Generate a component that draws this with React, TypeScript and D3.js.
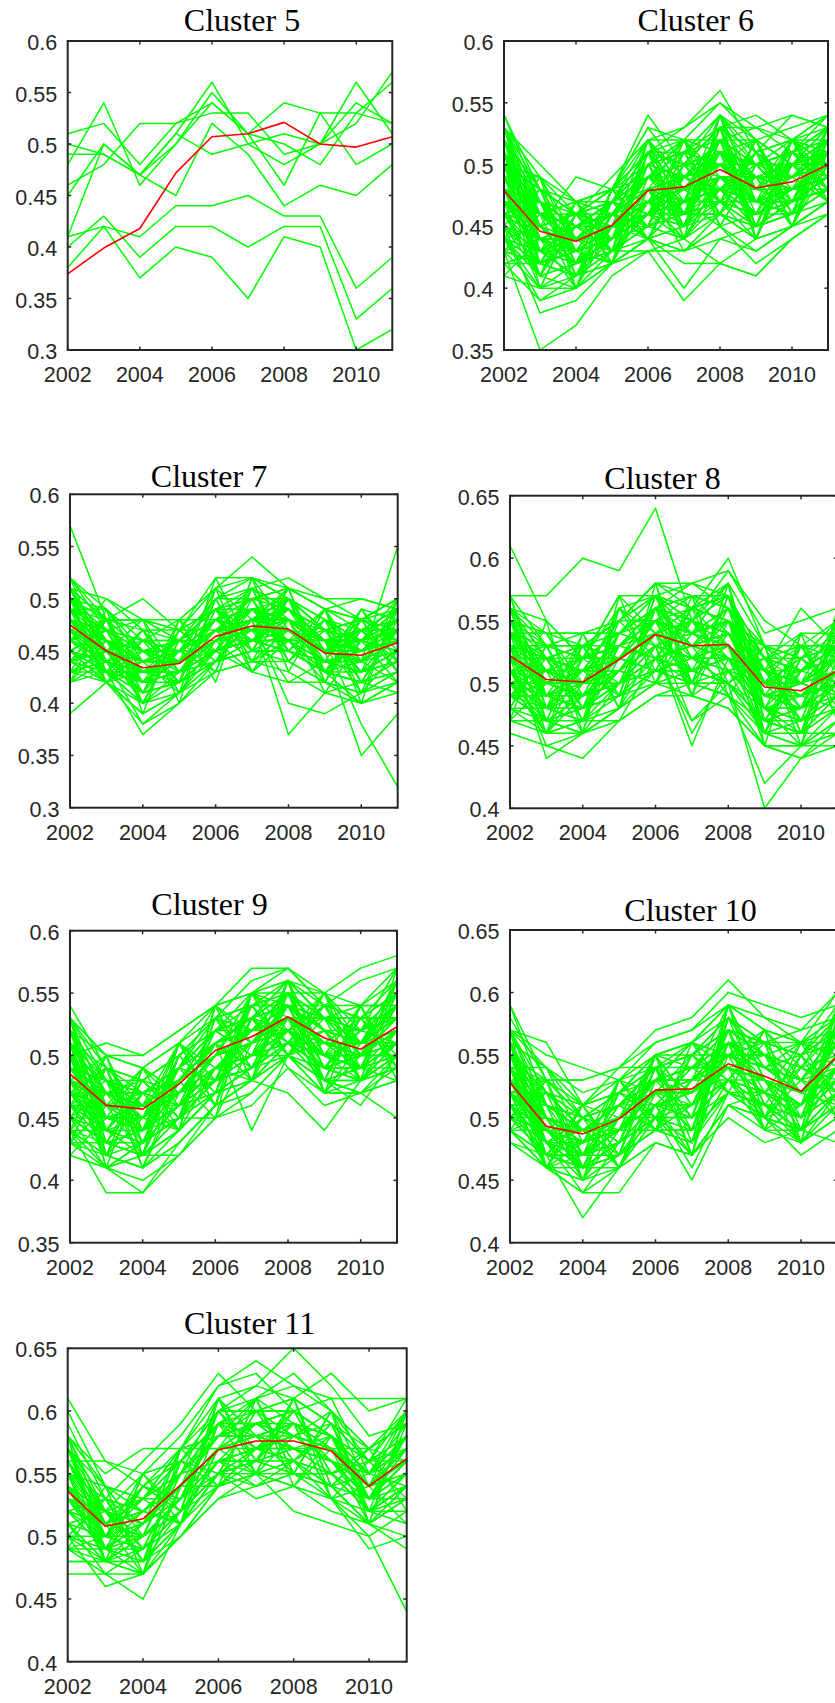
import React from "react";
import * as d3 from "d3";

// Years on the horizontal axis
const YEARS = [2002, 2003, 2004, 2005, 2006, 2007, 2008, 2009, 2010, 2011];
const X_TICKS = [2002, 2004, 2006, 2008, 2010];

// Member trajectories, values in hundredths (0.48 -> 48)
const cluster5Members = [
  [51, 52, 48, 52, 54, 51, 54, 53, 53, 52],
  [50, 49, 47, 51, 56, 50, 48, 50, 56, 51],
  [49, 49, 47, 45, 52, 49, 44, 46, 45, 48],
  [48, 54, 46, 50, 55, 51, 46, 53, 48, 50],
  [46, 48, 52, 52, 53, 53, 49, 50, 52, 57],
  [45, 50, 47, 51, 49, 50, 51, 50, 54, 52],
  [41, 50, 47, 50, 54, 51, 50, 48, 53, 56],
  [38, 42, 37, 40, 39, 35, 41, 40, 30, 32],
  [40, 43, 39, 42, 42, 40, 42, 42, 33, 36],
  [41, 42, 41, 44, 44, 45, 43, 43, 36, 39],
];
const cluster5Centroid = [0.374, 0.399, 0.418, 0.472, 0.507, 0.510, 0.521, 0.500, 0.497, 0.507];

const cluster6Members = [
  [54, 47, 44, 46, 50, 49, 52, 50, 51, 53], [53, 46, 45, 47, 49, 50, 51, 49, 50, 52],
  [52, 48, 46, 47, 51, 50, 53, 51, 52, 51], [51, 44, 43, 45, 49, 51, 54, 52, 50, 53],
  [50, 47, 45, 46, 48, 49, 52, 50, 51, 52], [50, 45, 43, 44, 47, 48, 50, 49, 49, 51],
  [49, 46, 44, 45, 48, 47, 49, 48, 50, 50], [49, 44, 42, 44, 46, 48, 51, 47, 48, 49],
  [48, 45, 44, 46, 48, 49, 50, 48, 49, 51], [48, 43, 43, 44, 47, 46, 48, 47, 47, 49],
  [47, 46, 45, 45, 49, 48, 49, 49, 48, 50], [47, 44, 42, 43, 46, 47, 48, 46, 47, 48],
  [46, 43, 44, 45, 47, 48, 50, 47, 49, 50], [46, 42, 41, 43, 45, 46, 47, 46, 46, 48],
  [45, 44, 43, 44, 46, 47, 49, 48, 48, 49], [45, 41, 42, 43, 44, 45, 47, 45, 46, 47],
  [44, 42, 43, 44, 46, 44, 48, 47, 47, 49], [44, 40, 40, 42, 44, 43, 46, 44, 45, 47],
  [43, 42, 41, 43, 45, 44, 47, 46, 47, 48], [42, 39, 40, 42, 44, 45, 46, 44, 45, 47],
  [41, 40, 41, 42, 44, 43, 45, 43, 45, 46], [53, 50, 47, 48, 52, 52, 55, 52, 53, 54],
  [52, 45, 49, 48, 54, 50, 53, 54, 52, 54], [51, 47, 46, 49, 52, 53, 56, 51, 54, 53],
  [50, 49, 47, 47, 51, 51, 53, 53, 52, 52], [49, 45, 46, 48, 50, 52, 52, 50, 51, 53],
  [48, 47, 45, 47, 49, 50, 51, 50, 50, 51], [47, 43, 42, 44, 48, 45, 49, 47, 48, 50],
  [46, 44, 43, 45, 46, 49, 50, 49, 49, 51], [45, 42, 44, 46, 48, 47, 51, 48, 50, 50],
  [44, 43, 45, 45, 47, 48, 49, 47, 48, 50], [48, 46, 44, 46, 47, 49, 50, 47, 49, 52],
  [49, 44, 42, 45, 49, 47, 48, 49, 48, 50], [50, 46, 45, 46, 48, 46, 47, 45, 47, 49],
  [47, 45, 43, 44, 45, 47, 49, 48, 47, 49], [46, 41, 40, 43, 45, 44, 46, 45, 46, 48],
  [52, 44, 43, 45, 48, 49, 51, 49, 50, 51], [51, 46, 44, 46, 49, 48, 52, 48, 49, 52],
  [45, 38, 39, 42, 44, 40, 44, 43, 45, 47], [43, 35, 37, 41, 43, 39, 42, 41, 44, 46],
  [47, 44, 44, 47, 48, 43, 44, 45, 47, 48], [42, 42, 43, 45, 44, 42, 42, 44, 45, 47],
  [44, 39, 41, 42, 43, 43, 45, 42, 44, 46], [48, 45, 42, 43, 46, 50, 53, 50, 51, 53],
  [50, 48, 46, 47, 50, 51, 54, 51, 52, 54], [53, 49, 46, 48, 53, 52, 51, 52, 50, 52],
  [46, 45, 44, 46, 47, 46, 49, 47, 47, 49], [49, 47, 45, 47, 50, 49, 51, 50, 50, 51],
  [47, 43, 42, 45, 47, 48, 50, 47, 48, 50], [45, 43, 41, 44, 46, 45, 48, 46, 47, 48],
  [50, 44, 44, 46, 49, 50, 50, 48, 49, 51], [48, 42, 43, 44, 46, 47, 49, 46, 48, 49],
  [51, 45, 43, 45, 48, 49, 52, 49, 50, 52], [46, 44, 45, 46, 48, 48, 48, 48, 49, 50],
  [44, 41, 42, 44, 47, 46, 50, 47, 48, 49], [49, 46, 47, 48, 51, 52, 49, 49, 48, 51],
  [52, 47, 45, 46, 50, 51, 50, 50, 52, 50], [47, 46, 43, 44, 47, 47, 47, 47, 46, 48],
  [43, 40, 42, 44, 46, 45, 48, 45, 47, 48], [54, 48, 47, 48, 51, 53, 55, 53, 54, 53],
  [41, 44, 45, 43, 43, 44, 42, 41, 44, 46], [53, 48, 46, 48, 53, 49, 52, 53, 51, 54],
  [52, 42, 46, 43, 51, 45, 53, 45, 52, 47], [44, 48, 41, 47, 45, 51, 46, 52, 46, 53],
  [50, 41, 47, 42, 52, 44, 54, 44, 51, 48], [46, 47, 42, 46, 44, 50, 47, 51, 45, 52],
  [53, 43, 45, 44, 50, 46, 52, 46, 50, 49], [43, 46, 43, 47, 46, 49, 48, 50, 47, 51],
  [51, 40, 46, 45, 49, 52, 45, 50, 47, 53], [45, 49, 40, 48, 44, 47, 53, 44, 52, 47],
  [49, 42, 47, 43, 52, 46, 51, 45, 51, 48], [47, 47, 41, 46, 45, 52, 47, 52, 46, 52],
  [52, 44, 42, 48, 47, 44, 54, 47, 49, 52], [44, 45, 46, 42, 51, 48, 46, 51, 48, 49],
  [50, 46, 40, 45, 46, 50, 49, 46, 52, 50], [48, 41, 45, 47, 50, 45, 52, 49, 45, 53],
  [46, 48, 44, 43, 52, 49, 47, 44, 50, 48], [51, 43, 47, 46, 45, 51, 50, 52, 47, 51],
  [43, 44, 42, 48, 49, 46, 53, 47, 52, 49], [53, 47, 43, 42, 48, 52, 48, 45, 46, 53],
  [47, 40, 46, 46, 44, 47, 54, 50, 49, 47], [49, 49, 44, 44, 51, 44, 49, 48, 51, 52],
  [45, 42, 41, 47, 46, 50, 46, 52, 45, 50], [52, 46, 46, 45, 52, 48, 52, 44, 50, 47],
  [44, 43, 45, 43, 47, 51, 47, 49, 48, 53], [50, 48, 42, 48, 45, 46, 53, 51, 52, 48],
  [46, 41, 47, 44, 50, 52, 45, 46, 47, 51], [48, 44, 40, 46, 48, 45, 51, 50, 51, 49],
  [51, 47, 45, 47, 44, 49, 50, 47, 46, 52], [43, 42, 43, 42, 49, 47, 48, 51, 49, 50],
  [53, 45, 46, 48, 51, 50, 54, 48, 52, 51], [47, 43, 41, 45, 46, 46, 46, 45, 47, 49],
  [49, 46, 47, 43, 50, 51, 52, 52, 50, 53], [45, 44, 44, 46, 47, 44, 49, 46, 48, 48],
  [50, 42, 43, 47, 49, 49, 47, 49, 45, 51], [52, 48, 46, 44, 46, 52, 51, 44, 51, 50],
  [46, 45, 42, 48, 51, 47, 45, 50, 47, 52], [48, 47, 41, 45, 45, 50, 53, 47, 50, 47],
  [44, 41, 46, 47, 52, 48, 48, 51, 46, 50], [51, 44, 44, 42, 47, 45, 52, 45, 52, 53],
  [42, 43, 45, 46, 44, 49, 50, 48, 49, 51], [50, 49, 43, 47, 50, 46, 46, 49, 48, 49],
];
const cluster6Centroid = [0.479, 0.446, 0.438, 0.451, 0.479, 0.482, 0.496, 0.481, 0.486, 0.500];

const cluster7Members = [
  [57, 48, 45, 44, 47, 48, 49, 46, 45, 46], [52, 47, 44, 45, 48, 50, 50, 47, 46, 47],
  [52, 49, 46, 46, 50, 52, 50, 48, 47, 48], [51, 48, 48, 47, 49, 50, 51, 49, 48, 50],
  [51, 46, 43, 44, 47, 49, 48, 45, 44, 47], [50, 47, 45, 45, 48, 47, 49, 47, 46, 49],
  [50, 45, 42, 43, 46, 48, 47, 44, 44, 46], [49, 48, 48, 46, 49, 51, 49, 47, 45, 48],
  [49, 46, 44, 44, 47, 47, 48, 46, 45, 47], [49, 44, 41, 42, 45, 46, 46, 43, 43, 45],
  [48, 47, 45, 45, 48, 49, 48, 46, 47, 48], [48, 45, 43, 43, 46, 47, 47, 45, 44, 46],
  [48, 43, 40, 42, 45, 46, 45, 43, 42, 44], [47, 46, 44, 45, 47, 48, 47, 46, 46, 47],
  [47, 44, 42, 43, 45, 46, 46, 44, 43, 45], [47, 42, 39, 41, 44, 45, 44, 42, 41, 43],
  [46, 45, 44, 44, 46, 47, 48, 45, 45, 46], [46, 43, 41, 42, 44, 45, 45, 43, 42, 44],
  [46, 50, 47, 46, 49, 50, 49, 46, 46, 48], [45, 44, 43, 43, 45, 46, 46, 44, 44, 45],
  [45, 42, 40, 41, 43, 44, 44, 42, 40, 42], [44, 45, 44, 44, 46, 47, 48, 46, 47, 47],
  [44, 43, 42, 42, 44, 45, 45, 43, 42, 43], [43, 44, 43, 43, 45, 46, 47, 45, 45, 46],
  [43, 42, 38, 40, 43, 44, 43, 41, 40, 41], [42, 43, 42, 43, 44, 45, 45, 44, 43, 44],
  [39, 42, 43, 44, 46, 47, 46, 44, 43, 44], [50, 48, 50, 47, 52, 52, 50, 48, 46, 47],
  [51, 48, 48, 48, 51, 54, 51, 49, 47, 49], [49, 47, 46, 46, 50, 51, 52, 50, 48, 50],
  [48, 46, 45, 46, 49, 50, 51, 49, 50, 49], [47, 45, 44, 45, 47, 48, 50, 47, 48, 49],
  [46, 44, 43, 44, 46, 49, 48, 45, 44, 46], [45, 43, 37, 40, 44, 45, 47, 44, 43, 45],
  [44, 42, 39, 41, 44, 46, 45, 43, 40, 42], [48, 44, 38, 41, 45, 47, 42, 42, 41, 43],
  [47, 45, 42, 43, 46, 43, 42, 44, 43, 44], [46, 44, 43, 44, 47, 48, 37, 41, 42, 43],
  [45, 43, 42, 43, 46, 48, 40, 39, 41, 42], [47, 46, 44, 44, 47, 47, 47, 45, 35, 39],
  [48, 47, 45, 44, 47, 48, 48, 46, 38, 32], [49, 45, 43, 44, 47, 48, 49, 46, 44, 55],
  [46, 44, 43, 43, 45, 46, 47, 45, 46, 50], [44, 43, 41, 42, 44, 46, 45, 44, 45, 48],
  [50, 46, 43, 45, 48, 49, 49, 47, 48, 46], [42, 44, 42, 44, 45, 43, 46, 43, 44, 42],
  [45, 47, 46, 45, 48, 47, 46, 46, 46, 45], [48, 45, 44, 45, 47, 46, 48, 45, 45, 47],
  [43, 43, 40, 43, 46, 47, 46, 43, 42, 41], [47, 48, 47, 47, 49, 49, 48, 47, 46, 48],
  [51, 50, 48, 47, 51, 52, 51, 50, 50, 49], [44, 48, 48, 46, 48, 49, 50, 47, 48, 50],
  [51, 43, 47, 41, 50, 44, 50, 42, 48, 43], [43, 48, 40, 46, 43, 51, 44, 48, 41, 49],
  [49, 42, 46, 42, 49, 45, 51, 43, 47, 44], [45, 47, 41, 47, 44, 50, 45, 49, 42, 48],
  [52, 44, 45, 43, 48, 47, 49, 44, 49, 45], [44, 46, 42, 45, 45, 49, 46, 47, 43, 47],
  [50, 45, 48, 40, 51, 43, 48, 41, 46, 42], [42, 49, 39, 48, 42, 52, 43, 49, 40, 50],
  [48, 43, 44, 44, 47, 46, 50, 45, 48, 46], [46, 48, 43, 42, 50, 44, 47, 46, 44, 49],
  [51, 46, 40, 47, 44, 48, 51, 42, 47, 43], [43, 44, 47, 43, 47, 50, 44, 48, 45, 48],
  [49, 47, 42, 45, 43, 52, 47, 44, 49, 44], [45, 42, 45, 46, 49, 46, 49, 47, 42, 47],
  [50, 49, 44, 41, 46, 49, 45, 48, 46, 45], [44, 45, 41, 48, 48, 45, 50, 43, 48, 47],
  [47, 43, 46, 44, 51, 48, 46, 46, 43, 50], [52, 48, 43, 46, 45, 51, 48, 45, 47, 44],
  [42, 46, 45, 42, 49, 47, 51, 49, 44, 46], [48, 44, 42, 47, 47, 44, 46, 42, 49, 48],
  [46, 47, 48, 43, 44, 48, 49, 46, 41, 45], [50, 42, 44, 45, 50, 50, 44, 47, 46, 49],
  [43, 45, 40, 46, 46, 46, 48, 43, 48, 43], [49, 49, 45, 44, 48, 51, 45, 48, 44, 47],
  [45, 43, 43, 42, 52, 45, 50, 45, 47, 46], [51, 45, 46, 48, 45, 49, 47, 44, 45, 48],
  [44, 48, 42, 44, 47, 47, 50, 47, 43, 44], [47, 46, 44, 46, 49, 43, 46, 49, 48, 47],
  [48, 43, 47, 43, 46, 48, 48, 43, 46, 45], [46, 47, 41, 45, 48, 46, 49, 46, 47, 49],
];
const cluster7Centroid = [0.475, 0.450, 0.434, 0.438, 0.464, 0.474, 0.471, 0.448, 0.446, 0.458];

const cluster8Members = [
  [57, 57, 60, 59, 64, 55, 57, 52, 51, 53], [61, 55, 52, 53, 56, 54, 55, 50, 50, 52],
  [57, 53, 54, 55, 58, 56, 57, 51, 50, 53], [56, 54, 54, 54, 56, 58, 57, 52, 52, 53],
  [56, 52, 51, 52, 55, 54, 56, 50, 49, 52], [55, 53, 53, 55, 57, 55, 58, 53, 51, 53],
  [55, 51, 50, 53, 55, 54, 55, 49, 49, 51], [54, 54, 54, 54, 56, 57, 56, 50, 50, 52],
  [54, 52, 51, 52, 54, 53, 53, 49, 50, 51], [54, 50, 49, 51, 53, 52, 54, 48, 48, 50],
  [53, 53, 53, 53, 55, 54, 55, 51, 51, 52], [53, 51, 50, 51, 54, 53, 52, 49, 48, 51],
  [53, 49, 48, 50, 52, 51, 53, 47, 47, 50], [52, 52, 52, 52, 54, 55, 54, 50, 49, 52],
  [52, 50, 50, 51, 53, 52, 52, 48, 49, 50], [52, 48, 47, 49, 52, 50, 51, 46, 47, 49],
  [51, 51, 51, 51, 53, 52, 53, 49, 48, 51], [51, 49, 48, 50, 52, 51, 50, 47, 46, 49],
  [51, 47, 46, 48, 51, 50, 49, 45, 45, 48], [50, 50, 50, 50, 52, 53, 52, 48, 47, 50],
  [50, 48, 48, 49, 51, 50, 50, 46, 46, 48], [50, 46, 46, 48, 50, 49, 48, 45, 45, 47],
  [49, 49, 49, 50, 51, 52, 52, 48, 48, 49], [49, 47, 47, 48, 50, 50, 49, 46, 45, 46],
  [48, 48, 48, 49, 51, 51, 50, 47, 46, 48], [48, 46, 47, 47, 49, 49, 48, 45, 44, 45],
  [47, 47, 48, 49, 50, 51, 50, 48, 47, 49], [46, 45, 46, 47, 49, 50, 49, 47, 46, 46],
  [56, 55, 52, 57, 57, 56, 55, 52, 51, 54], [55, 52, 51, 55, 58, 57, 56, 53, 52, 55],
  [54, 53, 52, 56, 57, 58, 56, 52, 54, 54], [53, 51, 50, 53, 56, 55, 59, 55, 53, 55],
  [52, 50, 49, 52, 55, 56, 60, 53, 52, 54], [51, 48, 48, 51, 55, 57, 57, 51, 56, 53],
  [50, 47, 46, 50, 54, 55, 54, 50, 54, 52], [53, 44, 46, 48, 53, 46, 51, 48, 47, 50],
  [52, 45, 44, 47, 52, 47, 50, 47, 46, 49], [51, 46, 47, 50, 53, 45, 52, 49, 48, 50],
  [50, 48, 50, 52, 54, 47, 49, 42, 45, 47], [49, 47, 48, 51, 53, 52, 50, 40, 44, 46],
  [52, 50, 51, 53, 55, 54, 53, 45, 44, 47], [51, 49, 50, 52, 56, 53, 52, 46, 45, 45],
  [53, 52, 53, 54, 57, 55, 54, 50, 51, 53], [50, 49, 51, 52, 55, 54, 53, 51, 53, 53],
  [49, 48, 49, 51, 54, 56, 55, 53, 53, 53], [55, 50, 51, 53, 55, 53, 54, 49, 50, 51],
  [54, 51, 49, 50, 52, 53, 55, 50, 49, 52], [52, 49, 48, 50, 53, 52, 51, 48, 47, 48],
  [51, 50, 52, 54, 56, 55, 52, 49, 48, 51], [53, 52, 50, 52, 54, 55, 53, 50, 50, 52],
  [56, 53, 52, 53, 55, 54, 56, 51, 50, 53], [50, 51, 52, 53, 55, 54, 53, 50, 49, 51],
  [49, 50, 51, 52, 54, 53, 54, 51, 50, 52], [54, 52, 53, 55, 57, 56, 55, 52, 51, 54],
  [47, 46, 49, 50, 51, 51, 52, 48, 47, 50], [55, 54, 53, 55, 58, 58, 59, 54, 55, 56],
  [56, 47, 53, 49, 57, 50, 57, 46, 53, 48], [48, 53, 47, 56, 51, 56, 50, 53, 46, 55],
  [55, 48, 52, 50, 56, 51, 56, 47, 52, 49], [49, 52, 48, 55, 52, 55, 51, 52, 47, 54],
  [57, 49, 51, 51, 55, 52, 55, 48, 51, 50], [50, 51, 49, 54, 53, 54, 52, 51, 48, 53],
  [54, 46, 54, 48, 58, 49, 58, 45, 54, 47], [47, 55, 46, 57, 50, 57, 49, 53, 45, 56],
  [53, 50, 50, 53, 54, 53, 54, 49, 50, 52], [51, 48, 51, 49, 57, 52, 50, 52, 48, 51],
  [56, 52, 47, 52, 51, 56, 53, 46, 52, 50], [48, 47, 53, 55, 55, 50, 57, 50, 47, 54],
  [54, 54, 49, 50, 53, 55, 51, 48, 53, 49], [50, 46, 52, 54, 56, 49, 55, 53, 46, 53],
  [52, 53, 48, 51, 50, 54, 58, 47, 51, 52], [55, 49, 50, 56, 54, 51, 52, 51, 50, 55],
  [49, 51, 53, 48, 56, 57, 54, 49, 49, 48], [57, 48, 47, 53, 52, 53, 56, 52, 53, 51],
  [51, 52, 51, 55, 58, 50, 50, 47, 48, 54], [53, 47, 49, 50, 54, 56, 57, 50, 52, 50],
  [47, 50, 52, 52, 51, 52, 53, 48, 45, 52], [55, 54, 50, 54, 55, 49, 51, 52, 50, 49],
  [50, 48, 54, 49, 57, 54, 55, 46, 51, 53], [52, 51, 46, 56, 53, 51, 52, 51, 47, 50],
  [54, 49, 51, 51, 50, 55, 57, 49, 53, 52], [48, 53, 48, 53, 56, 53, 49, 47, 48, 55],
  [56, 50, 52, 57, 54, 50, 54, 53, 50, 49], [51, 46, 50, 50, 52, 56, 58, 48, 46, 51],
  [53, 52, 47, 54, 57, 52, 51, 50, 52, 53], [49, 49, 53, 52, 55, 54, 55, 51, 49, 50],
];
const cluster8Centroid = [0.522, 0.503, 0.501, 0.519, 0.539, 0.530, 0.531, 0.497, 0.494, 0.510];

const cluster9Members = [
  [54, 49, 48, 50, 53, 54, 56, 53, 52, 55], [53, 50, 49, 51, 54, 55, 57, 54, 53, 56],
  [52, 48, 47, 49, 52, 53, 55, 52, 51, 54], [52, 50, 50, 52, 54, 55, 56, 55, 54, 57],
  [51, 47, 46, 48, 51, 52, 54, 51, 50, 53], [51, 49, 48, 50, 53, 54, 55, 53, 52, 54],
  [50, 46, 45, 47, 50, 51, 53, 50, 49, 52], [50, 48, 47, 49, 52, 53, 54, 52, 51, 53],
  [49, 45, 44, 46, 49, 50, 52, 49, 48, 51], [49, 47, 47, 48, 51, 52, 53, 51, 50, 52],
  [48, 44, 43, 45, 48, 49, 51, 48, 47, 50], [48, 46, 46, 47, 50, 51, 52, 50, 49, 51],
  [47, 43, 42, 44, 47, 48, 50, 47, 48, 49], [47, 45, 45, 47, 49, 50, 51, 49, 48, 50],
  [46, 42, 41, 43, 46, 48, 50, 48, 47, 49], [46, 44, 44, 46, 48, 49, 50, 48, 48, 50],
  [45, 41, 40, 42, 45, 47, 50, 47, 47, 48], [45, 43, 43, 45, 47, 48, 50, 49, 49, 50],
  [44, 42, 41, 43, 46, 48, 51, 48, 48, 49], [44, 39, 39, 42, 45, 46, 49, 47, 47, 48],
  [43, 41, 39, 43, 46, 47, 50, 48, 49, 50], [42, 41, 42, 44, 47, 49, 51, 49, 49, 51],
  [43, 43, 44, 46, 48, 50, 52, 50, 50, 51], [50, 51, 50, 52, 54, 57, 57, 55, 57, 58],
  [53, 50, 49, 51, 53, 56, 57, 54, 56, 57], [49, 48, 48, 50, 52, 55, 56, 54, 54, 56],
  [48, 47, 46, 48, 51, 53, 56, 53, 53, 55], [47, 46, 45, 47, 50, 52, 55, 52, 52, 54],
  [46, 45, 44, 46, 49, 51, 54, 51, 51, 53], [45, 44, 43, 45, 48, 50, 53, 50, 50, 52],
  [44, 43, 42, 44, 47, 49, 52, 49, 50, 51], [52, 47, 45, 47, 51, 44, 50, 48, 46, 50],
  [50, 45, 44, 46, 49, 48, 47, 44, 48, 50], [48, 46, 45, 48, 51, 53, 49, 46, 47, 45],
  [46, 43, 42, 45, 48, 55, 53, 53, 54, 48], [49, 47, 46, 49, 51, 52, 52, 51, 50, 52],
  [47, 44, 43, 46, 49, 50, 51, 50, 49, 51], [51, 48, 46, 48, 51, 53, 55, 53, 52, 54],
  [45, 44, 42, 42, 46, 48, 51, 49, 48, 50], [44, 42, 43, 45, 47, 49, 52, 50, 49, 51],
  [48, 45, 44, 46, 50, 51, 53, 51, 50, 53], [50, 47, 46, 47, 50, 52, 54, 52, 51, 53],
  [47, 46, 47, 49, 52, 53, 54, 52, 51, 52], [46, 45, 46, 48, 50, 51, 53, 50, 49, 51],
  [49, 46, 45, 47, 50, 51, 52, 50, 50, 52], [51, 46, 44, 45, 49, 50, 51, 49, 48, 51],
  [53, 49, 47, 48, 52, 52, 54, 52, 51, 52], [45, 43, 44, 46, 49, 51, 53, 51, 50, 52],
  [44, 41, 43, 45, 48, 50, 52, 50, 51, 53], [42, 41, 42, 45, 48, 50, 51, 49, 50, 52],
  [52, 48, 46, 48, 52, 53, 54, 52, 51, 55], [50, 46, 46, 48, 51, 52, 55, 52, 51, 54],
  [49, 45, 45, 47, 50, 52, 53, 51, 50, 53], [48, 45, 44, 47, 50, 51, 54, 51, 51, 53],
  [47, 44, 45, 47, 49, 50, 52, 50, 49, 51], [46, 44, 43, 46, 48, 49, 51, 49, 48, 50],
  [51, 47, 47, 49, 51, 52, 54, 53, 52, 54], [43, 42, 41, 44, 47, 49, 52, 50, 49, 51],
  [49, 48, 47, 49, 52, 54, 55, 53, 53, 55], [45, 45, 45, 47, 50, 52, 53, 51, 50, 52],
  [53, 42, 49, 44, 54, 48, 56, 47, 54, 49], [44, 50, 42, 51, 46, 55, 50, 55, 48, 56],
  [52, 43, 48, 45, 53, 49, 55, 48, 53, 50], [45, 49, 43, 50, 47, 54, 51, 54, 49, 55],
  [51, 44, 47, 46, 52, 50, 54, 49, 52, 51], [46, 48, 44, 49, 48, 53, 52, 53, 50, 54],
  [50, 41, 49, 47, 51, 48, 56, 50, 54, 48], [43, 49, 41, 48, 45, 55, 50, 52, 48, 57],
  [49, 45, 46, 44, 54, 51, 53, 47, 51, 52], [47, 47, 45, 51, 49, 52, 55, 55, 50, 50],
  [53, 46, 42, 48, 50, 54, 51, 51, 53, 53], [44, 44, 48, 45, 53, 49, 54, 48, 49, 49],
  [51, 48, 44, 50, 47, 53, 50, 54, 51, 56], [48, 42, 47, 46, 52, 50, 56, 50, 48, 51],
  [46, 50, 43, 49, 46, 55, 52, 48, 54, 54], [52, 45, 49, 47, 51, 48, 53, 53, 50, 50],
  [45, 47, 45, 44, 54, 52, 55, 49, 52, 55], [50, 43, 42, 51, 48, 49, 51, 52, 49, 48],
  [47, 49, 46, 48, 50, 54, 54, 51, 53, 53], [53, 44, 48, 45, 45, 51, 52, 55, 51, 51],
  [43, 46, 44, 50, 52, 53, 56, 47, 50, 56], [49, 48, 41, 47, 49, 50, 50, 53, 48, 52],
  [51, 42, 45, 49, 53, 52, 53, 48, 54, 49], [46, 46, 49, 46, 47, 55, 55, 52, 49, 54],
  [48, 50, 44, 48, 51, 49, 51, 50, 52, 57], [52, 45, 46, 51, 46, 53, 54, 54, 50, 50],
  [44, 47, 43, 45, 53, 51, 52, 49, 53, 53], [50, 44, 48, 47, 48, 54, 50, 51, 49, 55],
  [47, 49, 42, 50, 52, 50, 56, 53, 51, 51], [45, 43, 47, 44, 49, 52, 53, 50, 54, 54],
  [53, 48, 45, 49, 54, 48, 55, 52, 48, 50], [42, 45, 46, 46, 47, 53, 51, 55, 52, 53],
  [51, 41, 43, 48, 50, 55, 54, 49, 50, 56], [48, 47, 48, 45, 51, 49, 52, 54, 53, 49],
  [46, 46, 44, 51, 48, 51, 55, 50, 49, 55],
];
const cluster9Centroid = [0.485, 0.460, 0.457, 0.477, 0.504, 0.515, 0.531, 0.514, 0.505, 0.523];

const cluster10Members = [
  [59, 53, 50, 51, 54, 55, 58, 56, 55, 59], [59, 51, 49, 50, 53, 54, 57, 55, 54, 58],
  [57, 56, 51, 52, 55, 56, 59, 57, 56, 60], [57, 52, 50, 51, 53, 53, 56, 55, 53, 57],
  [56, 50, 48, 50, 52, 53, 55, 54, 52, 56], [56, 54, 52, 53, 55, 56, 58, 56, 55, 58],
  [55, 51, 49, 50, 52, 52, 55, 54, 52, 55], [55, 49, 47, 49, 51, 51, 54, 53, 51, 54],
  [55, 53, 53, 54, 54, 55, 57, 56, 56, 57], [54, 50, 48, 49, 51, 52, 54, 53, 51, 55],
  [54, 48, 46, 48, 50, 50, 53, 52, 50, 53], [53, 53, 53, 54, 56, 57, 59, 57, 56, 58],
  [53, 49, 48, 49, 51, 51, 53, 52, 50, 54], [53, 47, 46, 47, 49, 49, 52, 51, 49, 52],
  [52, 52, 51, 52, 54, 55, 57, 55, 54, 57], [52, 49, 47, 48, 50, 50, 52, 51, 50, 53],
  [52, 46, 44, 46, 48, 47, 51, 50, 48, 51], [51, 51, 50, 51, 53, 54, 56, 54, 53, 56],
  [51, 48, 47, 48, 50, 49, 52, 51, 49, 52], [51, 46, 45, 47, 49, 48, 53, 49, 49, 51],
  [50, 50, 49, 50, 52, 53, 55, 53, 52, 55], [50, 47, 46, 47, 49, 48, 52, 50, 49, 52],
  [49, 49, 48, 49, 51, 52, 54, 52, 51, 54], [49, 46, 45, 46, 48, 47, 51, 49, 48, 50],
  [48, 47, 47, 48, 50, 51, 53, 51, 51, 53], [57, 55, 54, 53, 56, 57, 60, 59, 58, 59],
  [56, 54, 51, 54, 57, 58, 61, 58, 57, 60], [55, 52, 50, 52, 55, 56, 59, 58, 56, 58],
  [54, 50, 49, 51, 53, 54, 57, 56, 57, 58], [53, 49, 47, 50, 52, 53, 56, 54, 55, 57],
  [55, 48, 44, 48, 51, 50, 53, 50, 49, 51], [54, 47, 42, 46, 50, 49, 52, 51, 48, 50],
  [52, 46, 44, 44, 48, 47, 51, 50, 47, 49], [53, 49, 46, 46, 50, 45, 51, 52, 50, 52],
  [52, 48, 47, 47, 51, 46, 52, 51, 50, 53], [50, 47, 46, 48, 51, 47, 50, 48, 49, 48],
  [51, 48, 47, 49, 52, 53, 55, 55, 52, 56], [53, 50, 49, 51, 53, 53, 54, 53, 52, 55],
  [56, 51, 49, 51, 54, 55, 57, 55, 53, 57], [54, 51, 50, 51, 53, 54, 56, 54, 53, 56],
  [52, 50, 49, 50, 52, 52, 54, 53, 52, 55], [50, 49, 49, 50, 52, 52, 54, 53, 51, 54],
  [55, 50, 48, 50, 53, 54, 55, 53, 52, 55], [51, 49, 48, 50, 53, 53, 55, 54, 52, 55],
  [53, 50, 48, 49, 52, 52, 54, 53, 52, 54], [54, 49, 47, 49, 52, 51, 53, 52, 51, 54],
  [52, 48, 48, 50, 53, 52, 55, 54, 53, 56], [57, 50, 48, 50, 52, 53, 56, 54, 52, 56],
  [49, 47, 47, 49, 51, 50, 53, 52, 50, 53], [55, 52, 51, 52, 54, 54, 56, 54, 53, 57],
  [58, 53, 50, 52, 54, 55, 58, 56, 55, 58], [51, 49, 47, 49, 51, 52, 55, 53, 51, 54],
  [50, 48, 46, 47, 50, 51, 53, 51, 50, 52], [53, 51, 49, 51, 53, 53, 56, 53, 52, 56],
  [48, 46, 46, 47, 49, 49, 52, 50, 49, 51],
  [57, 46, 51, 47, 55, 48, 59, 50, 56, 51], [49, 53, 45, 53, 49, 56, 52, 57, 48, 59],
  [56, 47, 50, 48, 54, 49, 58, 51, 55, 52], [50, 52, 46, 52, 50, 55, 53, 56, 49, 58],
  [55, 48, 49, 49, 53, 50, 57, 52, 54, 53], [51, 51, 47, 51, 51, 54, 54, 55, 50, 57],
  [57, 50, 45, 50, 55, 47, 56, 49, 55, 56], [49, 47, 51, 46, 52, 53, 59, 53, 48, 52],
  [54, 54, 48, 53, 49, 51, 53, 57, 53, 50], [52, 46, 50, 48, 54, 56, 55, 50, 51, 55],
  [56, 49, 46, 52, 50, 48, 58, 54, 56, 54], [50, 53, 51, 47, 55, 55, 52, 51, 49, 59],
  [53, 47, 47, 51, 52, 49, 57, 56, 52, 51], [55, 52, 49, 46, 51, 54, 54, 49, 55, 57],
  [51, 48, 45, 53, 54, 50, 59, 53, 50, 53], [57, 51, 50, 49, 49, 53, 55, 57, 54, 55],
  [49, 46, 48, 52, 53, 56, 52, 52, 48, 58], [54, 53, 46, 48, 55, 51, 56, 50, 53, 52],
  [52, 49, 51, 50, 50, 47, 58, 55, 56, 56], [56, 46, 47, 53, 52, 55, 53, 53, 49, 54],
  [50, 52, 49, 47, 54, 52, 57, 49, 51, 59], [53, 48, 50, 51, 49, 48, 55, 56, 55, 50],
  [55, 51, 45, 49, 55, 54, 52, 51, 50, 57], [51, 47, 48, 52, 51, 50, 58, 54, 52, 53],
  [57, 54, 50, 46, 53, 56, 54, 52, 56, 55], [49, 50, 46, 50, 52, 49, 56, 56, 48, 58],
  [54, 46, 51, 53, 50, 53, 53, 50, 54, 52], [52, 53, 47, 48, 54, 47, 59, 53, 51, 56],
  [56, 48, 49, 51, 49, 55, 55, 55, 53, 54], [50, 50, 48, 49, 55, 51, 57, 51, 50, 57],
];
const cluster10Centroid = [0.528, 0.493, 0.487, 0.499, 0.522, 0.523, 0.543, 0.533, 0.521, 0.549];

const cluster11Members = [
  [61, 56, 54, 56, 60, 62, 61, 59, 56, 61], [60, 54, 53, 57, 62, 63, 60, 61, 55, 60],
  [59, 53, 52, 55, 59, 61, 63, 60, 57, 59], [58, 52, 51, 54, 58, 59, 60, 58, 55, 58],
  [57, 51, 50, 53, 57, 58, 59, 57, 54, 57], [56, 56, 55, 56, 59, 60, 58, 59, 56, 58],
  [56, 50, 49, 52, 56, 57, 58, 56, 53, 56], [55, 53, 52, 55, 58, 59, 58, 57, 54, 57],
  [55, 49, 48, 51, 55, 56, 57, 55, 52, 55], [54, 52, 51, 54, 57, 58, 59, 58, 55, 57],
  [54, 48, 47, 50, 54, 55, 56, 54, 51, 54], [53, 51, 52, 55, 58, 58, 57, 56, 53, 56],
  [53, 50, 49, 52, 56, 57, 57, 56, 53, 55], [52, 51, 53, 56, 59, 59, 58, 57, 54, 56],
  [52, 49, 48, 51, 55, 56, 56, 55, 52, 54], [51, 50, 51, 53, 56, 57, 57, 56, 54, 55],
  [51, 48, 47, 51, 55, 55, 55, 54, 51, 53], [50, 49, 50, 53, 56, 56, 55, 55, 52, 54],
  [50, 48, 48, 50, 54, 55, 54, 53, 50, 52], [49, 50, 51, 54, 57, 58, 58, 57, 54, 55],
  [49, 48, 48, 52, 55, 54, 55, 53, 49, 50], [48, 48, 49, 52, 54, 55, 56, 55, 52, 53],
  [47, 47, 47, 50, 53, 54, 55, 54, 51, 49], [58, 55, 57, 57, 61, 62, 65, 62, 58, 59],
  [57, 53, 56, 59, 63, 60, 61, 63, 60, 61], [56, 52, 55, 58, 62, 64, 62, 61, 61, 61],
  [55, 51, 54, 57, 60, 61, 62, 60, 57, 60], [54, 50, 53, 56, 60, 60, 61, 59, 57, 59],
  [53, 50, 52, 55, 59, 59, 60, 58, 56, 58], [52, 49, 51, 54, 58, 58, 59, 57, 55, 57],
  [51, 47, 45, 51, 55, 53, 54, 52, 51, 50], [50, 46, 47, 50, 53, 55, 52, 51, 50, 44],
  [53, 49, 50, 52, 56, 54, 56, 53, 52, 51], [54, 51, 52, 54, 57, 58, 57, 56, 53, 58],
  [55, 52, 51, 53, 56, 56, 57, 56, 54, 56], [52, 50, 49, 51, 55, 56, 55, 54, 53, 55],
  [53, 49, 48, 51, 54, 57, 58, 57, 53, 57], [56, 51, 50, 53, 57, 58, 59, 58, 55, 59],
  [57, 54, 53, 55, 58, 60, 60, 58, 56, 60], [51, 48, 50, 52, 55, 57, 56, 55, 53, 54],
  [49, 47, 49, 52, 55, 56, 57, 56, 52, 54], [54, 52, 53, 55, 58, 59, 59, 58, 54, 58],
  [55, 50, 50, 52, 56, 57, 58, 57, 53, 56], [52, 51, 50, 53, 57, 57, 58, 57, 54, 57],
  [50, 49, 51, 54, 57, 59, 60, 58, 55, 56],
  [58, 48, 55, 51, 61, 55, 61, 54, 57, 52], [49, 54, 47, 57, 54, 61, 55, 60, 51, 60],
  [57, 49, 54, 52, 60, 56, 60, 55, 56, 53], [50, 53, 48, 56, 55, 60, 56, 59, 52, 59],
  [56, 50, 53, 53, 59, 57, 59, 56, 55, 54], [51, 52, 49, 55, 56, 59, 57, 58, 53, 58],
  [58, 51, 47, 54, 54, 61, 54, 57, 57, 56], [48, 48, 55, 52, 61, 56, 61, 53, 51, 60],
  [55, 54, 50, 57, 57, 55, 58, 60, 54, 51], [53, 49, 52, 51, 59, 58, 55, 55, 56, 57],
  [57, 52, 48, 56, 55, 57, 60, 58, 52, 55], [50, 50, 54, 53, 60, 60, 56, 54, 57, 59],
  [54, 48, 51, 55, 56, 55, 61, 59, 53, 53], [52, 53, 49, 52, 61, 58, 57, 56, 55, 58],
  [56, 51, 53, 57, 58, 61, 55, 60, 51, 54], [49, 49, 47, 54, 54, 56, 59, 53, 56, 60],
  [58, 54, 52, 51, 57, 59, 58, 57, 54, 57], [51, 50, 55, 56, 59, 55, 54, 58, 52, 52],
  [55, 48, 50, 53, 55, 60, 60, 55, 57, 59], [53, 52, 48, 54, 60, 57, 56, 59, 53, 55],
  [57, 50, 54, 52, 56, 56, 61, 54, 55, 58], [50, 53, 51, 57, 58, 59, 57, 57, 51, 53],
  [54, 49, 49, 55, 61, 58, 55, 60, 56, 56], [52, 51, 53, 51, 57, 61, 59, 53, 54, 60],
  [56, 52, 50, 56, 54, 57, 56, 58, 52, 54],
];
const cluster11Centroid = [0.536, 0.508, 0.514, 0.541, 0.569, 0.576, 0.576, 0.568, 0.540, 0.562];

// Y tick values for each of the vertical ranges used
const Y_TICKS_030 = [0.3, 0.35, 0.4, 0.45, 0.5, 0.55, 0.6];
const Y_TICKS_035 = [0.35, 0.4, 0.45, 0.5, 0.55, 0.6];
const Y_TICKS_040 = [0.4, 0.45, 0.5, 0.55, 0.6, 0.65];

// Panel placement on the page (axes box and title anchor, in px)
const panels = [
  { title: "Cluster 5", members: cluster5Members, centroid: cluster5Centroid, yTicks: Y_TICKS_030,
    box: { x0: 67.7, x1: 392.3, y0: 41, y1: 350 }, titleX: 242, titleY: 30.7 },
  { title: "Cluster 6", members: cluster6Members, centroid: cluster6Centroid, yTicks: Y_TICKS_035,
    box: { x0: 504, x1: 828, y0: 41, y1: 350 }, titleX: 695.8, titleY: 30.7 },
  { title: "Cluster 7", members: cluster7Members, centroid: cluster7Centroid, yTicks: Y_TICKS_030,
    box: { x0: 70, x1: 397.7, y0: 494.3, y1: 807.7 }, titleX: 209, titleY: 486.7 },
  { title: "Cluster 8", members: cluster8Members, centroid: cluster8Centroid, yTicks: Y_TICKS_040,
    box: { x0: 510, x1: 837.4, y0: 495.7, y1: 808.3 }, titleX: 662.5, titleY: 489.3 },
  { title: "Cluster 9", members: cluster9Members, centroid: cluster9Centroid, yTicks: Y_TICKS_035,
    box: { x0: 70, x1: 397, y0: 930.7, y1: 1242.7 }, titleX: 209.5, titleY: 915 },
  { title: "Cluster 10", members: cluster10Members, centroid: cluster10Centroid, yTicks: Y_TICKS_040,
    box: { x0: 510, x1: 837.4, y0: 930, y1: 1242.7 }, titleX: 690.5, titleY: 920.7 },
  { title: "Cluster 11", members: cluster11Members, centroid: cluster11Centroid, yTicks: Y_TICKS_040,
    box: { x0: 67.7, x1: 406.7, y0: 1348.3, y1: 1661.7 }, titleX: 249.5, titleY: 1334 },
];

const AXIS_COLOR = "#262626";
const TICK_LEN = 3.5;
const TICK_FONT = "'Liberation Sans', Arial, Helvetica, sans-serif";
const TITLE_FONT = "'Liberation Serif', 'Times New Roman', Times, serif";

function fmt(v: number) {
  return String(+v.toFixed(2));
}

function Panel({ p }: { p: (typeof panels)[number] }) {
  const { x0, x1, y0, y1 } = p.box;
  const yDomain = [p.yTicks[0], p.yTicks[p.yTicks.length - 1]];
  const x = d3.scaleLinear().domain([YEARS[0], YEARS[YEARS.length - 1]]).range([x0, x1]);
  const y = d3.scaleLinear().domain(yDomain).range([y1, y0]);
  const line = d3
    .line<number>()
    .x((_, i) => x(YEARS[i]))
    .y((v) => y(v));

  return (
    <g>
      <text x={p.titleX} y={p.titleY} textAnchor="middle" fontFamily={TITLE_FONT} fontSize={32} fill="#000">
        {p.title}
      </text>
      <g fill="none" strokeLinejoin="round" strokeLinecap="round">
        {p.members.map((m, i) => (
          <path key={i} d={line(m.map((v) => v / 100)) || ""} stroke="#00ff00" strokeWidth={1.5} />
        ))}
        <path d={line(p.centroid) || ""} stroke="#ff0000" strokeWidth={1.6} />
      </g>
      <g stroke={AXIS_COLOR} strokeWidth={1.5}>
        {X_TICKS.map((t) => (
          <g key={"xt" + t}>
            <line x1={x(t)} x2={x(t)} y1={y1} y2={y1 - TICK_LEN} />
            <line x1={x(t)} x2={x(t)} y1={y0} y2={y0 + TICK_LEN} />
          </g>
        ))}
        {p.yTicks.map((t) => (
          <g key={"yt" + t}>
            <line x1={x0} x2={x0 + TICK_LEN} y1={y(t)} y2={y(t)} />
            <line x1={x1} x2={x1 - TICK_LEN} y1={y(t)} y2={y(t)} />
          </g>
        ))}
      </g>
      <rect x={x0} y={y0} width={x1 - x0} height={y1 - y0} fill="none" stroke={AXIS_COLOR} strokeWidth={2} />
      <g fontFamily={TICK_FONT} fontSize={21.5} fill={AXIS_COLOR}>
        {X_TICKS.map((t) => (
          <text key={"xl" + t} x={x(t)} y={y1 + 32} textAnchor="middle">
            {t}
          </text>
        ))}
        {p.yTicks.map((t) => (
          <text key={"yl" + t} x={x0 - 10.5} y={y(t) + 9} textAnchor="end">
            {fmt(t)}
          </text>
        ))}
      </g>
    </g>
  );
}

export default function App() {
  return (
    <svg
      width={835}
      height={1703}
      viewBox="0 0 835 1703"
      style={{ position: "absolute", left: 0, top: 0, background: "#fff", display: "block" }}
    >
      <rect x={0} y={0} width={835} height={1703} fill="#fff" />
      {panels.map((p) => (
        <Panel key={p.title} p={p} />
      ))}
    </svg>
  );
}
